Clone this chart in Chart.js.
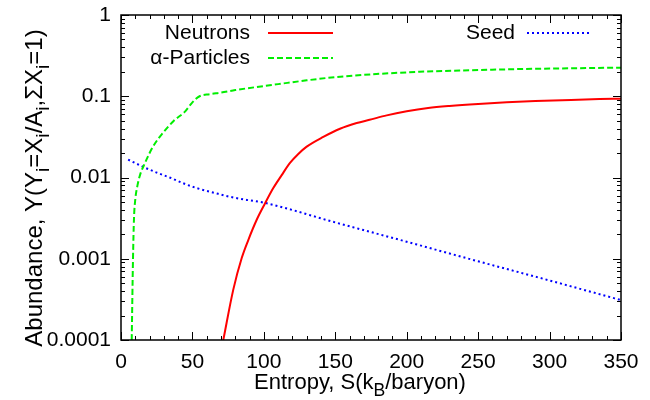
<!DOCTYPE html>
<html>
<head>
<meta charset="utf-8">
<script src="https://cdn.jsdelivr.net/npm/chart.js@4/dist/chart.umd.min.js"></script>
<style>
  body { margin: 0; background: #fff; }
</style>
</head>
<body>
<canvas id="myChart" width="650" height="400"></canvas>
<script>
// values (entropy S in kB/baryon, abundance Y)
const neutronS = [71.6, 78.6, 84.5, 89.1, 95, 100.8, 106.6, 112.5, 118.3, 124.1, 130, 141.6, 153.3, 165, 174, 186, 200, 215, 230, 250, 270, 290, 315, 335, 350];
const neutronY = [1e-4, 4.17e-4, 1.02e-3, 1.70e-3, 3.02e-3, 4.79e-3, 7.41e-3, 0.0107, 0.0151, 0.0195, 0.0240, 0.0316, 0.0398, 0.0468, 0.0513, 0.0582, 0.0653, 0.0716, 0.0759, 0.0804, 0.0841, 0.0871, 0.0902, 0.0923, 0.0933];

const alphaS = [7.5, 8.4, 9.1, 10, 11.5, 13.3, 16.8, 22.4, 29.4, 37, 44.8, 49.7, 55, 62, 70, 80, 95, 110, 130, 150, 175, 209, 245, 279, 315, 350];
const alphaY = [1e-4, 1e-3, 3.16e-3, 5.37e-3, 7.94e-3, 0.0107, 0.0151, 0.024, 0.0355, 0.050, 0.0646, 0.083, 0.1, 0.106, 0.111, 0.119, 0.130, 0.141, 0.157, 0.172, 0.186, 0.2, 0.209, 0.216, 0.221, 0.225];

const seedS = [5, 15.6, 25, 34, 45, 53, 65, 76, 88, 100, 150, 200, 250, 300, 350];
const seedY = [0.0166, 0.0135, 0.0115, 0.010, 0.0083, 0.0074, 0.0065, 0.0058, 0.0053, 0.0049, 0.0028, 0.00162, 0.00093, 0.00054, 0.00031];

const xTicks = [0, 50, 100, 150, 200, 250, 300, 350];
const yTicks = [0.0001, 0.001, 0.01, 0.1, 1];

const FONT = "'Liberation Sans', Arial, Helvetica, sans-serif";

function pts(xs, ys) {
  return xs.map((x, i) => ({ x: x, y: ys[i] }));
}

// draw text with subscripts, parts = [[text, isSub], ...]
function richText(ctx, parts, x, y, size) {
  let w = 0;
  parts.forEach(p => {
    ctx.font = (p[1] ? size * 0.8 : size) + 'px ' + FONT;
    w += ctx.measureText(p[0]).width;
  });
  let cx = x - w / 2;
  parts.forEach(p => {
    ctx.font = (p[1] ? size * 0.8 : size) + 'px ' + FONT;
    ctx.fillText(p[0], cx, p[1] ? y + size * 0.3 : y);
    cx += ctx.measureText(p[0]).width;
  });
}

const framePlugin = {
  id: 'frame',
  afterDraw(chart) {
    const ctx = chart.ctx;
    const a = chart.chartArea;
    const xs = chart.scales.x, ys = chart.scales.y;
    ctx.save();
    ctx.strokeStyle = '#000';
    ctx.lineWidth = 1.5;
    ctx.strokeRect(a.left, a.top, a.right - a.left, a.bottom - a.top);

    // inward ticks, all four sides
    ctx.lineWidth = 1;
    ctx.beginPath();
    for (let v = 0; v <= 350; v += 10) {
      const px = Math.round(xs.getPixelForValue(v)) + 0.5;
      const len = xTicks.includes(v) ? 8 : 4;
      ctx.moveTo(px, a.bottom); ctx.lineTo(px, a.bottom - len);
      ctx.moveTo(px, a.top); ctx.lineTo(px, a.top + len);
    }
    for (let e = -4; e <= 0; e++) {
      for (let m = 1; m <= 9; m++) {
        if (e === 0 && m > 1) break;
        const v = m * Math.pow(10, e);
        const py = Math.round(ys.getPixelForValue(v)) + 0.5;
        const len = m === 1 ? 8 : 4;
        ctx.moveTo(a.left, py); ctx.lineTo(a.left + len, py);
        ctx.moveTo(a.right, py); ctx.lineTo(a.right - len, py);
      }
    }
    ctx.stroke();

    // key
    ctx.fillStyle = '#000';
    ctx.textBaseline = 'middle';
    ctx.textAlign = 'right';
    ctx.font = '21px ' + FONT;
    const keys = [
      [0, 250, 33, 268, 333],
      [1, 250, 58, 268, 333],
      [2, 515, 33, 527, 592]
    ];
    keys.forEach(k => {
      const ds = chart.data.datasets[k[0]];
      ctx.fillText(ds.label, k[1], k[2]);
      ctx.beginPath();
      ctx.strokeStyle = ds.borderColor;
      ctx.lineWidth = ds.borderWidth;
      ctx.setLineDash(ds.borderDash || []);
      ctx.moveTo(k[3], k[2]); ctx.lineTo(k[4], k[2]);
      ctx.stroke();
    });
    ctx.setLineDash([]);

    // axis titles
    ctx.textAlign = 'left';
    ctx.textBaseline = 'alphabetic';
    richText(ctx, [['Entropy, S(k', false], ['B', true], ['/baryon)', false]], 360, 389, 22);
    ctx.translate(42, 188);
    ctx.rotate(-Math.PI / 2);
    richText(ctx, [['Abundance, Y(Y', false], ['i', true], ['=X', false], ['i', true], ['/A', false], ['i', true], [',\u03A3X', false], ['i', true], ['=1)', false]], 0, 0, 24);
    ctx.restore();
  }
};

const ctx = document.getElementById('myChart').getContext('2d');

const myChart = new Chart(ctx, {
  type: 'line',
  data: {
    datasets: [{
      label: 'Neutrons',
      data: pts(neutronS, neutronY),
      borderColor: '#ff0000',
      borderWidth: 2,
      pointRadius: 0,
      cubicInterpolationMode: 'monotone'
    }, {
      label: '\u03B1-Particles',
      data: pts(alphaS, alphaY),
      borderColor: '#00ee00',
      borderWidth: 2,
      borderDash: [6, 3],
      pointRadius: 0,
      cubicInterpolationMode: 'monotone'
    }, {
      label: 'Seed',
      data: pts(seedS, seedY),
      borderColor: '#0000ff',
      borderWidth: 2,
      borderDash: [2, 3],
      pointRadius: 0,
      cubicInterpolationMode: 'monotone'
    }]
  },
  options: {
    responsive: false,
    animation: false,
    devicePixelRatio: 1,
    layout: { padding: { top: 15, right: 29, left: 0, bottom: 0 } },
    plugins: {
      legend: { display: false },
      tooltip: { enabled: false }
    },
    scales: {
      x: {
        type: 'linear',
        min: 0,
        max: 350,
        afterFit: s => {
          s.height = 60;
          s.paddingLeft = s.paddingRight = s.paddingTop = s.paddingBottom = 0;
        },
        afterBuildTicks: s => { s.ticks = xTicks.map(v => ({ value: v })); },
        grid: { display: false, drawTicks: false },
        border: { display: false },
        ticks: {
          color: '#000',
          font: { family: FONT, size: 21 },
          padding: 10,
          maxRotation: 0,
          autoSkip: false
        }
      },
      y: {
        type: 'logarithmic',
        min: 0.0001,
        max: 1,
        afterFit: s => {
          s.width = 121;
          s.paddingLeft = s.paddingRight = s.paddingTop = s.paddingBottom = 0;
        },
        afterBuildTicks: s => { s.ticks = yTicks.map(v => ({ value: v })); },
        grid: { display: false, drawTicks: false },
        border: { display: false },
        ticks: {
          color: '#000',
          font: { family: FONT, size: 21 },
          padding: 10,
          callback: v => String(v)
        }
      }
    }
  },
  plugins: [framePlugin]
});
</script>
</body>
</html>
